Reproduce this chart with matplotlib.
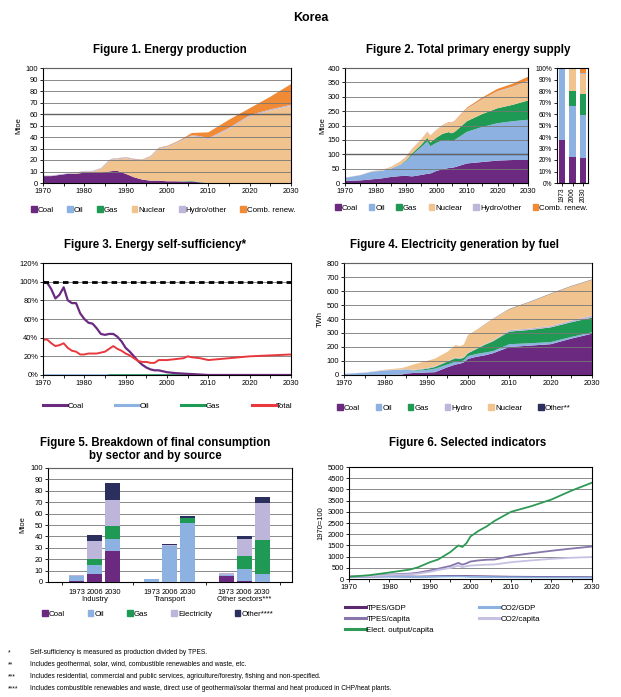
import numpy as np
import matplotlib
matplotlib.use('Agg')
import matplotlib.pyplot as plt
from matplotlib.patches import Patch
from matplotlib.lines import Line2D
from matplotlib.ticker import MultipleLocator, PercentFormatter

plt.rcParams['font.family'] = ['Liberation Sans', 'DejaVu Sans']
plt.rcParams['font.size'] = 5

# colours
C_COAL = '#6b2a80'
C_OIL = '#8db2e2'
C_GAS = '#1f9a55'
C_NUC = '#f1c48f'
C_HYD = '#bdb5da'
C_REN = '#f08a35'
C_OTH = '#2b2f5e'
C_RED = '#e8383d'

# ---- Figure 1: energy production (Mtoe)
years1 = [1970, 1972, 1974, 1976, 1978, 1980, 1982, 1984, 1986, 1987, 1988, 1990, 1992,
          1994, 1996, 1998, 2000, 2002, 2004, 2006, 2008, 2010, 2015, 2020, 2025, 2030]
coal1 = [6, 6, 7, 8, 8, 9, 9, 9, 10, 10.5, 10.5, 8, 5, 3, 2, 2, 1.5, 1.5, 1.2, 1.2, 0.5, 0, 0, 0, 0, 0]
oil1 = [0, 0, 0, 0, 0, 0, 0, 0, 0, 0, 0, 0, 0, 0, 0, 0, 0, 0, 0, 0, 0, 0, 0, 0, 0, 0]
gas1 = [0, 0, 0, 0, 0, 0, 0, 0, 0, 0, 0, 0, 0, 0, 0, 0, 0, 0, 0.3, 0.5, 0.3, 0, 0, 0, 0, 0]
nuc1 = [0, 0, 0, 0, 0.6, 0.9, 1, 3, 9, 10, 10, 13.5, 15, 16.5, 20.5, 27.5, 29.5, 32.5, 36, 39,
        39, 38, 47, 58, 63, 67]
hyd1 = [0.5, 0.5, 0.5, 0.5, 0.6, 0.6, 0.6, 0.7, 0.8, 0.8, 0.8, 0.9, 0.8, 0.7, 0.7, 0.8, 0.8,
        0.7, 0.8, 0.8, 1, 1, 1, 1, 1, 1]
ren1 = [0, 0, 0, 0, 0, 0, 0, 0.2, 0.2, 0.2, 0.2, 0.2, 0.3, 0.3, 0.3, 0.4, 0.5, 0.6, 0.8, 2, 3,
        5, 7, 6, 11, 18]

# ---- Figure 2: TPES (Mtoe)
years2 = [1970, 1975, 1979, 1980, 1982, 1985, 1988, 1990, 1992, 1995, 1997, 1998, 2000, 2002,
          2004, 2005, 2006, 2010, 2015, 2020, 2025, 2030]
coal2 = [7, 9, 13, 14, 16, 21, 24, 25, 23, 28, 32, 33, 42, 48, 52, 53, 55, 68, 73, 78, 80, 80]
oil2 = [11, 18, 27, 27, 26, 29, 38, 50, 75, 97, 113, 95, 98, 100, 98, 92, 95, 110, 122, 130, 135, 140]
gas2 = [0, 0, 0, 0, 0, 0, 1, 3, 5, 8, 12, 13, 18, 23, 27, 28, 28, 37, 45, 52, 57, 67]
nuc2 = [0, 0, 0.5, 1, 2, 5, 10, 12, 15, 18, 20, 23, 25, 28, 32, 34, 36, 42, 50, 58, 62, 67]
hyd2 = [0.5, 0.6, 0.7, 0.7, 0.7, 0.8, 0.9, 1, 1, 1, 1, 1, 1, 1, 1, 1, 1, 1.2, 1.5, 1.5, 1.5, 1.5]
ren2 = [0.2, 0.2, 0.2, 0.2, 0.3, 0.3, 0.4, 0.5, 0.6, 0.7, 0.8, 0.8, 1, 1.5, 2, 2, 2, 4, 6, 8, 10, 14]

share_years = ['1973', '2006', '2030']
share_coal = [37, 23, 22]
share_oil = [63, 44, 37]
share_gas = [0, 13, 18]
share_nuc = [0, 19, 18]
share_hyd = [0, 0.3, 0.5]
share_ren = [0, 0.7, 4.5]

# ---- Figure 3: self-sufficiency (%)
years3 = [1970, 1971, 1972, 1973, 1974, 1975, 1976, 1977, 1978, 1979, 1980, 1981, 1982, 1983,
          1984, 1985, 1986, 1987, 1988, 1989, 1990, 1991, 1992, 1993, 1994, 1995, 1996, 1997,
          1998, 1999, 2000, 2002, 2004, 2005, 2006, 2008, 2010, 2015, 2020, 2025, 2030]
ss_coal = [100, 99, 92, 82, 86, 94, 80, 77, 77, 66, 60, 56, 55, 50, 44, 43, 44, 44, 41, 36,
           29, 25, 20, 15, 11, 8, 6, 5, 5, 4, 3, 2, 1.5, 1.2, 1, 0.5, 0, 0, 0, 0, 0]
ss_total = [38, 38, 34, 31, 32, 34, 29, 26, 25, 22, 22, 23, 23, 23, 24, 25, 28, 31, 28, 26,
            23, 21, 18, 15, 14, 14, 13, 13, 16, 16, 16, 17, 18, 20, 19, 18, 16, 18, 20, 21, 22]
ss_years_oil = [1970, 2030]
ss_oil = [0, 0]
ss_years_gas = [1986, 2030]
ss_gas = [0, 0]

# ---- Figure 4: electricity generation (TWh)
years4 = [1970, 1975, 1980, 1984, 1985, 1987, 1990, 1992, 1995, 1997, 1998, 1999, 2000, 2002,
          2004, 2006, 2010, 2015, 2020, 2025, 2030]
el_coal = [0, 0, 0, 3, 10, 15, 18, 20, 55, 75, 80, 90, 115, 130, 140, 155, 200, 210, 220, 260, 295]
el_oil = [8, 16, 33, 35, 30, 15, 18, 25, 20, 20, 15, 15, 20, 20, 20, 15, 20, 17, 15, 12, 10]
el_gas = [0, 0, 0, 0, 0, 3, 8, 12, 20, 25, 20, 18, 20, 35, 55, 70, 90, 95, 105, 105, 105]
el_hyd = [1, 2, 2, 2, 3, 4, 6, 5, 5, 5, 5, 5, 5, 5, 5, 5, 10, 10, 10, 12, 15]
el_nuc = [0, 0, 3, 10, 15, 40, 50, 55, 65, 90, 85, 90, 125, 130, 140, 155, 150, 190, 230, 245, 255]
el_oth = [0, 0, 0, 0, 0, 0, 0, 0, 0, 0, 0, 0, 0.5, 0.5, 1, 1, 2, 2, 2, 2, 2]

# ---- Figure 5: final consumption by sector (Mtoe)
sectors = ['Industry', 'Transport', 'Other sectors***']
bar_years = ['1973', '2006', '2030']
fc_coal = [0.5, 7, 27, 0, 0, 0, 5.5, 1, 0]
fc_oil = [5, 8, 11, 2.5, 32, 52, 1, 10, 7]
fc_gas = [0, 5, 11, 0, 0, 4, 0, 12, 30]
fc_elec = [1, 16, 23, 0, 0.5, 0.5, 1, 15, 32]
fc_other = [0, 5, 15, 0, 0.5, 1, 0, 2.5, 6]

# ---- Figure 6: selected indicators (1970=100)
years6 = [1970, 1975, 1980, 1985, 1987, 1990, 1992, 1995, 1997, 1998, 1999, 2000, 2002, 2004,
          2006, 2010, 2015, 2020, 2025, 2030]
tpes_gdp = [100, 110, 120, 110, 105, 115, 125, 135, 140, 135, 130, 125, 120, 115, 110, 100, 95, 90, 85, 80]
co2_gdp = [100, 105, 115, 100, 95, 100, 110, 115, 120, 115, 105, 100, 95, 90, 85, 80, 75, 70, 68, 65]
tpes_cap = [100, 130, 200, 240, 280, 380, 460, 580, 720, 640, 700, 780, 830, 860, 870, 1030,
            1150, 1260, 1360, 1450]
co2_cap = [100, 120, 180, 210, 240, 320, 400, 490, 600, 530, 570, 600, 620, 640, 650, 750, 830,
           900, 950, 980]
elec_cap = [100, 170, 290, 420, 520, 750, 870, 1200, 1500, 1430, 1600, 1900, 2150, 2350, 2600,
            3000, 3250, 3550, 3950, 4300]

W, H = 621, 697
fig = plt.figure(figsize=(W / 100, H / 100), dpi=100)
TICK = 5.4
LEG = 5.7


def px_axes(l, t, r, b):
    return fig.add_axes([l / W, 1 - b / H, (r - l) / W, (b - t) / H])


def style(ax, ymax, ystep, years=True):
    ax.set_ylim(0, ymax)
    ax.yaxis.set_major_locator(MultipleLocator(ystep))
    ax.grid(axis='y', color='#777777', lw=0.6)
    ax.set_axisbelow(False)
    for s in ax.spines.values():
        s.set_color('black')
        s.set_linewidth(0.8)
    ax.tick_params(labelsize=TICK, length=2, width=0.6, pad=1.5)
    if years:
        ax.set_xlim(1970, 2030)
        ax.set_xticks(range(1970, 2031, 10))
        ax.xaxis.set_minor_locator(MultipleLocator(5))
        ax.tick_params(axis='x', which='minor', length=2, width=0.6)


def title(x, y, txt):
    fig.text(x / W, 1 - y / H, txt, ha='center', va='center', fontsize=8.3, fontweight='bold')


def patch_legend(ax, labels, colors, y, x0, ncol, spacing):
    handles = [Patch(color=c, label=l) for l, c in zip(labels, colors)]
    fig.legend(handles=handles, loc='center left', bbox_to_anchor=(x0 / W, 1 - y / H),
               ncol=ncol, frameon=False, fontsize=LEG, handlelength=0.7, handleheight=0.7,
               handletextpad=0.15, columnspacing=spacing, borderaxespad=0, borderpad=0)


fig.text(0.5, 1 - 18 / H, 'Korea', ha='center', va='center', fontsize=9, fontweight='bold')

# Figure 1
ax1 = px_axes(43, 68, 291, 183)
ax1.stackplot(years1, coal1, oil1, gas1, nuc1, hyd1, ren1,
              colors=[C_COAL, C_OIL, C_GAS, C_NUC, C_HYD, C_REN], lw=0)
style(ax1, 100, 10)
ax1.axhline(60, color='black', lw=0.9)
ax1.set_ylabel('Mtoe', fontsize=TICK, labelpad=2)
title(170, 50, 'Figure 1. Energy production')
patch_legend(ax1, ['Coal', 'Oil', 'Gas', 'Nuclear', 'Hydro/other', 'Comb. renew.'],
             [C_COAL, C_OIL, C_GAS, C_NUC, C_HYD, C_REN], 210, 31, 6, 1.7)

# Figure 2
ax2 = px_axes(345, 68, 528, 183)
ax2.stackplot(years2, coal2, oil2, gas2, nuc2, hyd2, ren2,
              colors=[C_COAL, C_OIL, C_GAS, C_NUC, C_HYD, C_REN], lw=0)
style(ax2, 400, 50)
ax2.axhline(100, color='black', lw=0.9)
ax2.set_ylabel('Mtoe', fontsize=TICK, labelpad=1)
title(468, 50, 'Figure 2. Total primary energy supply')

ax2b = px_axes(557, 68, 588, 183)
xb = np.arange(len(share_years))
bottom = np.zeros(len(share_years))
for vals, c in zip([share_coal, share_oil, share_gas, share_nuc, share_hyd, share_ren],
                   [C_COAL, C_OIL, C_GAS, C_NUC, C_HYD, C_REN]):
    ax2b.bar(xb, vals, bottom=bottom, color=c, width=0.6)
    bottom += np.array(vals)
ax2b.set_xlim(-0.5, 2.5)
ax2b.set_ylim(0, 100)
ax2b.yaxis.set_major_locator(MultipleLocator(10))
ax2b.yaxis.set_major_formatter(PercentFormatter(decimals=0))
ax2b.set_xticks(xb)
ax2b.set_xticklabels(share_years, rotation=90)
for s in ax2b.spines.values():
    s.set_color('black')
    s.set_linewidth(0.8)
ax2b.tick_params(labelsize=4.8, length=2, width=0.6, pad=1.5)
patch_legend(ax2, ['Coal', 'Oil', 'Gas', 'Nuclear', 'Hydro/other', 'Comb. renew.'],
             [C_COAL, C_OIL, C_GAS, C_NUC, C_HYD, C_REN], 208, 335, 6, 1.4)

# Figure 3
ax3 = px_axes(43, 263, 291, 375)
ax3.axhline(100, color='black', lw=2, ls=(0, (2, 1.5)), zorder=4)
ax3.plot(ss_years_oil, ss_oil, color=C_OIL, lw=1.8)
ax3.plot(ss_years_gas, ss_gas, color=C_GAS, lw=1.8)
ax3.plot(years3, ss_coal, color=C_COAL, lw=1.6)
ax3.plot(years3, ss_total, color=C_RED, lw=1.4)
style(ax3, 120, 20)
ax3.yaxis.set_major_formatter(PercentFormatter(decimals=0))
ax3.set_axisbelow(True)
title(155, 245, 'Figure 3. Energy self-sufficiency*')
lh = [Line2D([], [], color=c, lw=2.2, label=l)
      for l, c in zip(['Coal', 'Oil', 'Gas', 'Total'], [C_COAL, C_OIL, C_GAS, C_RED])]
fig.legend(handles=lh, loc='center left', bbox_to_anchor=(43 / W, 1 - 406 / H), ncol=4,
           frameon=False, fontsize=LEG, handlelength=3.0, handletextpad=0.1, columnspacing=4.0,
           borderaxespad=0, borderpad=0)

# Figure 4
ax4 = px_axes(344, 263, 592, 375)
ax4.stackplot(years4, el_coal, el_oil, el_gas, el_hyd, el_nuc, el_oth,
              colors=[C_COAL, C_OIL, C_GAS, C_HYD, C_NUC, C_OTH], lw=0)
style(ax4, 800, 100)
ax4.set_ylabel('TWh', fontsize=TICK, labelpad=2)
title(455, 245, 'Figure 4. Electricity generation by fuel')
patch_legend(ax4, ['Coal', 'Oil', 'Gas', 'Hydro', 'Nuclear', 'Other**'],
             [C_COAL, C_OIL, C_GAS, C_HYD, C_NUC, C_OTH], 408, 337, 6, 2.0)

# Figure 5
ax5 = px_axes(48, 468, 292, 582)
pos = []
for g in range(len(sectors)):
    for k in range(len(bar_years)):
        pos.append(g * 4.15 + k)
pos = np.array(pos)
bottom = np.zeros(len(pos))
for vals, c in zip([fc_coal, fc_oil, fc_gas, fc_elec, fc_other],
                   [C_COAL, C_OIL, C_GAS, C_HYD, C_OTH]):
    ax5.bar(pos, vals, bottom=bottom, color=c, width=0.85, zorder=3)
    bottom += np.array(vals)
style(ax5, 100, 10, years=False)
ax5.set_xlim(-1.6, 11.95)
ax5.set_xticks(pos)
ax5.set_xticklabels(bar_years * len(sectors))
ax5.set_xticks([-0.8, 3.1, 7.2, 11.3], minor=True)
ax5.tick_params(axis='x', which='major', length=0, pad=5)
ax5.tick_params(axis='x', which='minor', length=2, width=0.6)
for g, name in enumerate(sectors):
    ax5.text(g * 4.15 + 1, -0.155, name, transform=ax5.get_xaxis_transform(),
             ha='center', va='center', fontsize=TICK)
ax5.set_ylabel('Mtoe', fontsize=TICK, labelpad=3)
title(155, 443, 'Figure 5. Breakdown of final consumption')
title(155, 456, 'by sector and by source')
patch_legend(ax5, ['Coal', 'Oil', 'Gas', 'Electricity', 'Other****'],
             [C_COAL, C_OIL, C_GAS, C_HYD, C_OTH], 614, 42, 5, 2.9)

# Figure 6
ax6 = px_axes(349, 467, 592, 579)
ax6.plot(years6, tpes_gdp, color='#5b2a6e', lw=1.3)
ax6.plot(years6, co2_gdp, color=C_OIL, lw=1.3)
ax6.plot(years6, tpes_cap, color='#8676ab', lw=1.3)
ax6.plot(years6, co2_cap, color='#c6c0e2', lw=1.3)
ax6.plot(years6, elec_cap, color='#2e9a55', lw=1.3)
style(ax6, 5000, 500)
ax6.set_axisbelow(True)
ax6.set_ylabel('1970=100', fontsize=TICK, labelpad=2)
title(468, 443, 'Figure 6. Selected indicators')
ind_lab = ['TPES/GDP', 'CO2/GDP', 'TPES/capita', 'CO2/capita', 'Elect. output/capita']
ind_col = ['#5b2a6e', C_OIL, '#8676ab', '#c6c0e2', '#2e9a55']
for i, (l, c) in enumerate(zip(ind_lab, ind_col)):
    col, row = i % 2, i // 2
    h = [Line2D([], [], color=c, lw=2.2, label=l)]
    fig.legend(handles=h, loc='center left',
               bbox_to_anchor=((345 + col * 134) / W, 1 - (608 + row * 11) / H),
               frameon=False, fontsize=LEG, handlelength=2.6, handletextpad=0.1,
               borderaxespad=0, borderpad=0)

# footnotes
notes = [('*', 'Self-sufficiency is measured as production divided by TPES.'),
         ('**', 'Includes geothermal, solar, wind, combustible renewables and waste, etc.'),
         ('***', 'Includes residential, commercial and public services, agriculture/forestry, fishing and non-specified.'),
         ('****', 'Includes combustible renewables and waste, direct use of geothermal/solar thermal and heat produced in CHP/heat plants.')]
for i, (m, t) in enumerate(notes):
    y = 1 - (653 + i * 12) / H
    fig.text(8 / W, y, m, fontsize=4.8, va='center')
    fig.text(30 / W, y, t, fontsize=4.8, va='center')

fig.savefig('out.png', dpi=100)
